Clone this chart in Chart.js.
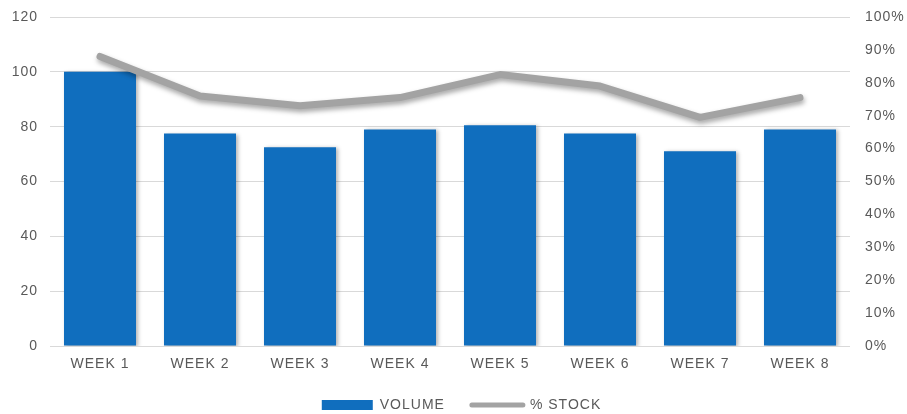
<!DOCTYPE html>
<html>
<head>
<meta charset="utf-8">
<script src="https://cdn.jsdelivr.net/npm/chart.js@4"></script>
<style>
html,body{margin:0;padding:0;background:#fff;}
#wrap{width:907px;height:414px;position:relative;}
</style>
</head>
<body>
<div id="wrap"><canvas id="c" width="907" height="414"></canvas></div>
<script>
const categories = ["WEEK 1","WEEK 2","WEEK 3","WEEK 4","WEEK 5","WEEK 6","WEEK 7","WEEK 8"];
const volume = [100, 77.5, 72.5, 79, 80.5, 77.5, 71, 79];
const stockPct = [88, 76, 73, 75.5, 82.5, 79, 69.5, 75.5];
const volumeTicks = [0, 20, 40, 60, 80, 100, 120];
const pctTicks = [0,10,20,30,40,50,60,70,80,90,100];

const font = {family: "'Liberation Sans', Arial, sans-serif", size: 14};
const tickColor = '#595959';

const spacingPlugin = {
  id: 'spacing',
  beforeInit(chart) { chart.ctx.letterSpacing = '1px'; },
  beforeLayout(chart) { chart.ctx.letterSpacing = '1px'; },
  afterLayout(chart) {
    if (chart.legend) { chart.legend.left += 8; chart.legend.right += 8; }
  },
  beforeDraw(chart) { chart.ctx.letterSpacing = '1px'; }
};

const shadowPlugin = {
  id: 'shadow',
  beforeDatasetDraw(chart, args) {
    const ctx = chart.ctx;
    ctx.save();
    if (args.index === 1) {
      ctx.shadowColor = 'rgba(0,0,0,0.35)';
      ctx.shadowBlur = 5;
      ctx.shadowOffsetX = 1;
      ctx.shadowOffsetY = 3;
    } else {
      ctx.shadowColor = 'rgba(0,0,0,0.3)';
      ctx.shadowBlur = 4;
      ctx.shadowOffsetX = 2;
      ctx.shadowOffsetY = 1;
    }
  },
  afterDatasetDraw(chart) {
    chart.ctx.restore();
  }
};

function noVPad(s, w) {
  s.width = w;
  s.paddingTop = 0;
  s.paddingBottom = 0;
}

new Chart(document.getElementById('c'), {
  type: 'bar',
  data: {
    labels: categories,
    datasets: [
      {
        type: 'bar',
        label: 'VOLUME',
        data: volume,
        backgroundColor: '#106EBE',
        borderWidth: 0,
        categoryPercentage: 0.72,
        barPercentage: 1,
        yAxisID: 'y',
        order: 2
      },
      {
        type: 'line',
        label: '% STOCK',
        data: stockPct,
        borderColor: '#A3A3A3',
        backgroundColor: '#A3A3A3',
        borderWidth: 7,
        borderCapStyle: 'round',
        borderJoinStyle: 'round',
        pointRadius: 0,
        pointHoverRadius: 0,
        tension: 0,
        yAxisID: 'y1',
        order: 1
      }
    ]
  },
  options: {
    responsive: false,
    animation: false,
    layout: {padding: {top: 17, left: 0, right: 0, bottom: -8}},
    plugins: {
      tooltip: {enabled: false},
      legend: {
        position: 'bottom',
        labels: {
          font: font,
          color: tickColor,
          usePointStyle: true,
          pointStyleWidth: 51,
          boxHeight: 10,
          padding: 27,
          generateLabels(chart) {
            return chart.data.datasets.map((ds, i) => ({
              text: ds.label,
              fillStyle: ds.type === 'bar' ? '#106EBE' : '#A3A3A3',
              strokeStyle: ds.type === 'bar' ? '#106EBE' : '#A3A3A3',
              lineWidth: ds.type === 'bar' ? 0 : 5,
              lineCap: 'round',
              pointStyle: ds.type === 'bar' ? 'rect' : 'line',
              fontColor: tickColor,
              datasetIndex: i,
              hidden: false
            }));
          }
        }
      }
    },
    scales: {
      x: {
        grid: {display: false, drawTicks: false},
        border: {display: false},
        afterFit(s) { s.height = 25; },
        ticks: {font: font, color: tickColor, padding: 10}
      },
      y: {
        position: 'left',
        min: 0, max: 120,
        afterBuildTicks(s) { s.ticks = volumeTicks.map(v => ({value: v})); },
        afterFit(s) { noVPad(s, 50); },
        grid: {color: '#D9D9D9', lineWidth: 1, drawTicks: false},
        border: {display: false},
        ticks: {font: font, color: tickColor, padding: 12}
      },
      y1: {
        position: 'right',
        min: 0, max: 100,
        afterBuildTicks(s) { s.ticks = pctTicks.map(v => ({value: v})); },
        afterFit(s) { noVPad(s, 57); },
        grid: {display: false, drawTicks: false},
        border: {display: false},
        ticks: {font: font, color: tickColor, padding: 15, callback: v => v + '%'}
      }
    }
  },
  plugins: [spacingPlugin, shadowPlugin]
});
</script>
</body>
</html>
